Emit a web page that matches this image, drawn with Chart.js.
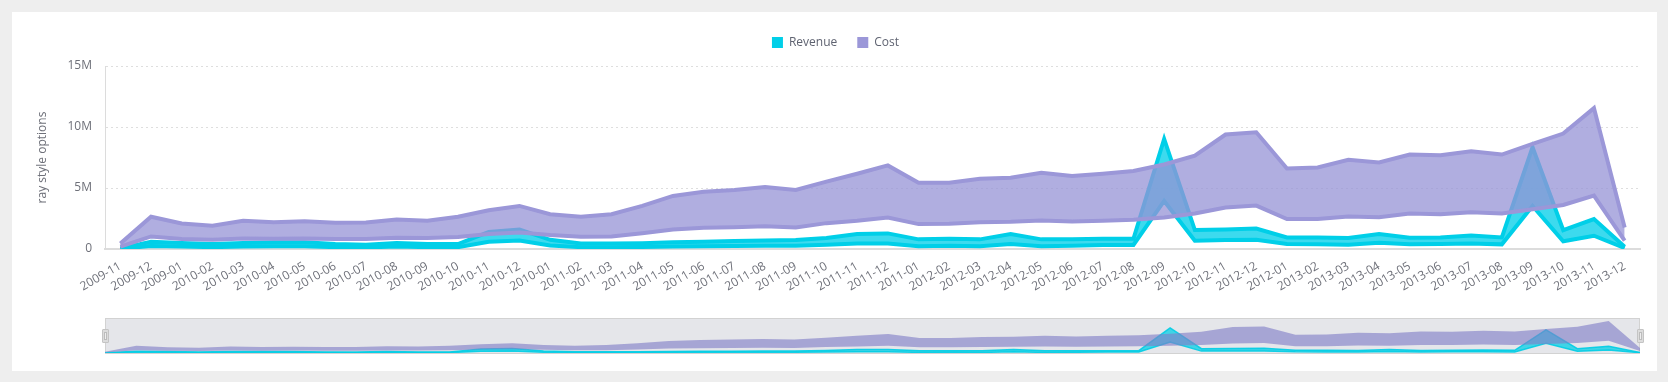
<!DOCTYPE html>
<html>
<head>
<meta charset="utf-8">
<script src="https://cdn.jsdelivr.net/npm/chart.js@4.4.1/dist/chart.umd.min.js"></script>
<style>
html,body{margin:0;padding:0;background:#eeeeee;width:1668px;height:382px;overflow:hidden;position:relative;}
#card{position:absolute;left:12px;top:12px;width:1645px;height:359px;background:#ffffff;}
#main{position:absolute;left:0;top:0;}
#sliderBg{position:absolute;left:105px;top:318px;width:1535px;height:36px;box-sizing:border-box;border:1px solid #d2d2d2;background:#e5e6ea;}
#mini{position:absolute;left:105px;top:318px;}
.handle{position:absolute;top:329px;width:7px;height:14px;box-sizing:border-box;border:1px solid #c4c4c4;background:#dcdcdc;border-radius:1px;}
.handle span{position:absolute;left:1px;top:2px;width:3px;height:8px;box-sizing:border-box;border:1px solid #bcbcbc;background:#eeeeee;}
</style>
</head>
<body>
<div id="card"></div>
<canvas id="main" width="1668" height="300"></canvas>
<div id="sliderBg"></div>
<canvas id="mini" width="1535" height="36"></canvas>
<div class="handle" style="left:102px"><span></span></div>
<div class="handle" style="left:1637px"><span></span></div>
<script>
// ---------- data (values in millions) ----------
const categories = [
  '2009-11','2009-12','2009-01','2010-02','2010-03','2010-04','2010-05','2010-06','2010-07','2010-08',
  '2010-09','2010-10','2010-11','2010-12','2010-01','2011-02','2011-03','2011-04','2011-05','2011-06',
  '2011-07','2011-08','2011-09','2011-10','2011-11','2011-12','2011-01','2012-02','2012-03','2012-04',
  '2012-05','2012-06','2012-07','2012-08','2012-09','2012-10','2012-11','2012-12','2012-01','2013-02',
  '2013-03','2013-04','2013-05','2013-06','2013-07','2013-08','2013-09','2013-10','2013-11','2013-12'
];
const revenueLow = [
  0.02,0.25,0.20,0.15,0.20,0.22,0.22,0.15,0.13,0.20,
  0.15,0.15,0.60,0.70,0.28,0.15,0.15,0.17,0.20,0.22,
  0.25,0.27,0.27,0.35,0.46,0.46,0.22,0.27,0.22,0.41,
  0.22,0.27,0.33,0.33,3.94,0.68,0.73,0.76,0.41,0.38,
  0.35,0.52,0.38,0.41,0.46,0.38,3.53,0.63,1.09,0.08
];
const revenueHigh = [
  0.05,0.60,0.50,0.40,0.50,0.55,0.55,0.40,0.35,0.50,
  0.40,0.40,1.40,1.60,0.75,0.45,0.45,0.48,0.55,0.60,
  0.65,0.70,0.73,0.90,1.22,1.28,0.79,0.84,0.79,1.22,
  0.79,0.79,0.84,0.84,9.02,1.55,1.60,1.68,0.95,0.95,
  0.90,1.22,0.92,0.95,1.11,0.95,8.34,1.55,2.45,0.19
];
const costLow = [
  0.20,1.03,0.82,0.76,0.87,0.84,0.87,0.82,0.82,0.92,
  0.90,0.98,1.22,1.36,1.14,1.00,1.03,1.30,1.60,1.74,
  1.79,1.87,1.77,2.12,2.31,2.58,2.04,2.07,2.20,2.23,
  2.34,2.26,2.31,2.39,2.58,2.91,3.40,3.56,2.45,2.45,
  2.66,2.61,2.91,2.85,3.02,2.91,3.26,3.61,4.38,0.68
];
const costHigh = [
  0.45,2.64,2.09,1.90,2.31,2.20,2.28,2.15,2.17,2.42,
  2.31,2.64,3.18,3.53,2.85,2.64,2.85,3.53,4.35,4.70,
  4.84,5.08,4.84,5.52,6.17,6.85,5.43,5.43,5.76,5.84,
  6.25,5.98,6.17,6.39,6.93,7.66,9.38,9.57,6.60,6.68,
  7.31,7.09,7.74,7.69,8.02,7.74,8.61,9.46,11.55,1.77
];
const yTickValues = [0, 5, 10, 15];
const yTickLabels = ['0', '5M', '10M', '15M'];
const seriesNames = ['Revenue', 'Cost'];

// ---------- styles ----------
const REV_LINE = '#00cfe8';
const REV_FILL = 'rgba(0,207,232,0.76)';
const COST_LINE = '#9b97d8';
const COST_FILL = 'rgba(150,147,214,0.75)';
const TEXT = '#6e7079';

Chart.defaults.font.family = "'Open Sans', sans-serif";
Chart.defaults.font.size = 12;

function band(data, color, width, fill, bg, order) {
  return {
    data: data, borderColor: color, borderWidth: width, backgroundColor: bg || 'rgba(0,0,0,0)',
    fill: fill, pointRadius: 0, pointHoverRadius: 0, tension: 0, order: order,
    borderJoinStyle: 'miter'
  };
}

const mainDatasets = [
  Object.assign(band(revenueLow, REV_LINE, 4, false, null, 2), {label: seriesNames[0] + ' low'}),
  Object.assign(band(revenueHigh, REV_LINE, 4, '-1', REV_FILL, 2), {label: seriesNames[0]}),
  Object.assign(band(costLow, COST_LINE, 4, false, null, 1), {label: seriesNames[1] + ' low'}),
  Object.assign(band(costHigh, COST_LINE, 4, '-1', COST_FILL, 1), {label: seriesNames[1]})
];

const mainChart = new Chart(document.getElementById('main'), {
  type: 'line',
  data: { labels: categories, datasets: mainDatasets },
  options: {
    responsive: false,
    animation: false,
    events: [],
    layout: { padding: { top: 16.5, right: 28, bottom: 0, left: 31 } },
    plugins: {
      tooltip: { enabled: false },
      legend: {
        display: true,
        position: 'top',
        labels: {
          boxWidth: 11, boxHeight: 11, padding: 20, color: '#5f6371',
          font: { size: 12 },
          generateLabels: function () {
            return [
              { text: seriesNames[0], fillStyle: REV_LINE, strokeStyle: REV_LINE, lineWidth: 0, datasetIndex: 1, fontColor: '#5f6371' },
              { text: seriesNames[1], fillStyle: COST_LINE, strokeStyle: COST_LINE, lineWidth: 0, datasetIndex: 3, fontColor: '#5f6371' }
            ];
          }
        }
      },
      subtitle: {
        display: true, text: '', weight: 500, padding: 0,
        font: { size: 7.5, lineHeight: 1 }
      }
    },
    scales: {
      x: {
        offset: true,
        grid: { display: false, drawTicks: false },
        border: { display: true, color: '#dcdcdc', width: 2 },
        ticks: { autoSkip: false, minRotation: 30, maxRotation: 30, color: TEXT, font: { size: 12 }, padding: 10 },
        afterFit: function (s) { s.height = 51; }
      },
      y: {
        min: 0, max: 15,
        afterBuildTicks: function (s) { s.ticks = yTickValues.map(v => ({ value: v })); },
        grid: { color: '#dedede', drawTicks: false, lineWidth: 1 },
        border: { display: true, color: '#dcdcdc', width: 1, dash: [2, 3] },
        ticks: {
          color: TEXT, font: { size: 12 }, padding: 13,
          callback: function (v) { const i = yTickValues.indexOf(v); return i >= 0 ? yTickLabels[i] : ''; }
        },
        title: { display: true, text: 'ray style options', color: TEXT, font: { size: 12 }, padding: { top: 4, bottom: 0 } },
        afterFit: function (s) { s.width = 74; }
      }
    }
  }
});

const miniChart = new Chart(document.getElementById('mini'), {
  type: 'line',
  data: {
    labels: categories,
    datasets: [
      band(revenueLow, 'rgba(0,205,228,0.9)', 1.5, false, null, 2),
      band(revenueHigh, 'rgba(0,205,228,0.9)', 1.5, '-1', 'rgba(0,205,228,0.72)', 2),
      band(costLow, 'rgba(0,0,0,0)', 0, false, null, 1),
      band(costHigh, 'rgba(0,0,0,0)', 0, '-1', 'rgba(128,124,198,0.62)', 1)
    ]
  },
  options: {
    responsive: false, animation: false, events: [],
    layout: { padding: { top: 0, right: 0, bottom: 1, left: 0 } },
    plugins: { legend: { display: false }, tooltip: { enabled: false } },
    scales: {
      x: { display: false, offset: false },
      y: { display: false, min: 0, max: 12.6 }
    }
  }
});
</script>
</body>
</html>
